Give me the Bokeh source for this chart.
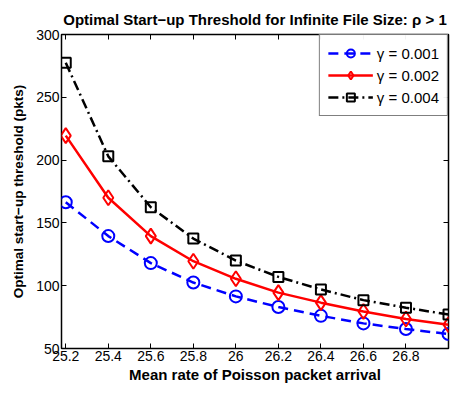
from bokeh.plotting import figure
from bokeh.models import Range1d, FixedTicker, LinearAxis, Legend, LegendItem
from bokeh.embed import file_html
from bokeh.resources import INLINE

x_vals = [25.2, 25.4, 25.6, 25.8, 26.0, 26.2, 26.4, 26.6, 26.8, 27.0]
g001 = [166.5, 139.5, 118, 102.5, 91.5, 83, 76, 70, 65.5, 61.5]
g002 = [219.5, 170, 139.5, 119.5, 105.5, 94.5, 86.5, 79.5, 73.5, 69]
g004 = [277.5, 203, 162.5, 137.5, 120, 107, 97, 88.5, 82.5, 77]
x_ticks = [25.2, 25.4, 25.6, 25.8, 26.0, 26.2, 26.4, 26.6, 26.8]
y_ticks = [50, 100, 150, 200, 250, 300]
labels = ["\u03b3 = 0.001", "\u03b3 = 0.002", "\u03b3 = 0.004"]

FONT = "Liberation Sans"

p = figure(width=450, height=385, output_backend="svg", toolbar_location=None,
           x_range=Range1d(25.18, 27.0), y_range=Range1d(50, 300),
           min_border_left=61, min_border_right=2, min_border_top=34, min_border_bottom=31)

p.title.text = "Optimal Start\u2212up Threshold for Infinite File Size: \u03c1 > 1"
p.title.align = "center"
p.title.text_font = FONT
p.title.text_font_size = "15px"
p.title.text_font_style = "bold"
p.title.text_color = "black"
p.title.offset = 0
p.title.standoff = 13

p.xgrid.visible = False
p.ygrid.visible = False
p.outline_line_color = "black"
p.outline_line_width = 1.5
p.outline_line_alpha = 1

for ax in p.xaxis:
    ax.ticker = FixedTicker(ticks=x_ticks)
    ax.axis_label = "Mean rate of Poisson packet arrival"
for ax in p.yaxis:
    ax.ticker = FixedTicker(ticks=y_ticks)
    ax.axis_label = "Optimal start\u2212up threshold (pkts)"

for ax in list(p.xaxis) + list(p.yaxis):
    ax.axis_line_color = None
    ax.major_tick_in = 5
    ax.major_tick_out = 0
    ax.minor_tick_line_color = None
    ax.major_tick_line_color = "black"
    ax.major_label_text_font = FONT
    ax.major_label_text_font_size = "14px"
    ax.major_label_text_color = "black"
    ax.major_label_standoff = 2
    ax.axis_label_text_font = FONT
    ax.axis_label_text_font_style = "bold"
    ax.axis_label_text_color = "black"
    ax.axis_label_standoff = 2
for ax in p.xaxis:
    ax.axis_label_text_font_size = "15px"
for ax in p.yaxis:
    ax.axis_label_text_font_size = "13.5px"
    ax.axis_label_standoff = 7

top = LinearAxis(ticker=FixedTicker(ticks=x_ticks), axis_line_color=None,
                 major_tick_in=5, major_tick_out=0, minor_tick_line_color=None,
                 major_label_text_font_size="0px", major_label_standoff=0)
right = LinearAxis(ticker=FixedTicker(ticks=y_ticks), axis_line_color=None,
                   major_tick_in=5, major_tick_out=0, minor_tick_line_color=None,
                   major_label_text_font_size="0px", major_label_standoff=0)
p.add_layout(top, "above")
p.add_layout(right, "right")

l1 = p.line(x_vals, g001, line_color="blue", line_width=2.5, line_dash="10 6")
s1 = p.scatter(x_vals, g001, marker="circle", size=12, line_color="blue",
               line_width=2, fill_color=None)
l2 = p.line(x_vals, g002, line_color="red", line_width=2.5)
s2 = p.scatter(x_vals, g002, marker="diamond", size=15, line_color="red",
               line_width=2, fill_color=None)
l3 = p.line(x_vals, g004, line_color="black", line_width=2.5, line_dash="10 4 2 4")
s3 = p.scatter(x_vals, g004, marker="square", size=10, line_color="black",
               line_width=2, fill_color=None)

legend = Legend(items=[LegendItem(label=labels[0], renderers=[l1, s1]),
                       LegendItem(label=labels[1], renderers=[l2, s2]),
                       LegendItem(label=labels[2], renderers=[l3, s3])],
                location="top_right", margin=0, padding=8, spacing=2,
                glyph_width=45, glyph_height=20, label_standoff=4,
                label_text_font=FONT, label_text_font_size="15px",
                label_text_color="black",
                border_line_color="black", border_line_width=1.5,
                background_fill_color="white")
p.add_layout(legend)

open("out.html", "w").write(file_html(p, INLINE))
